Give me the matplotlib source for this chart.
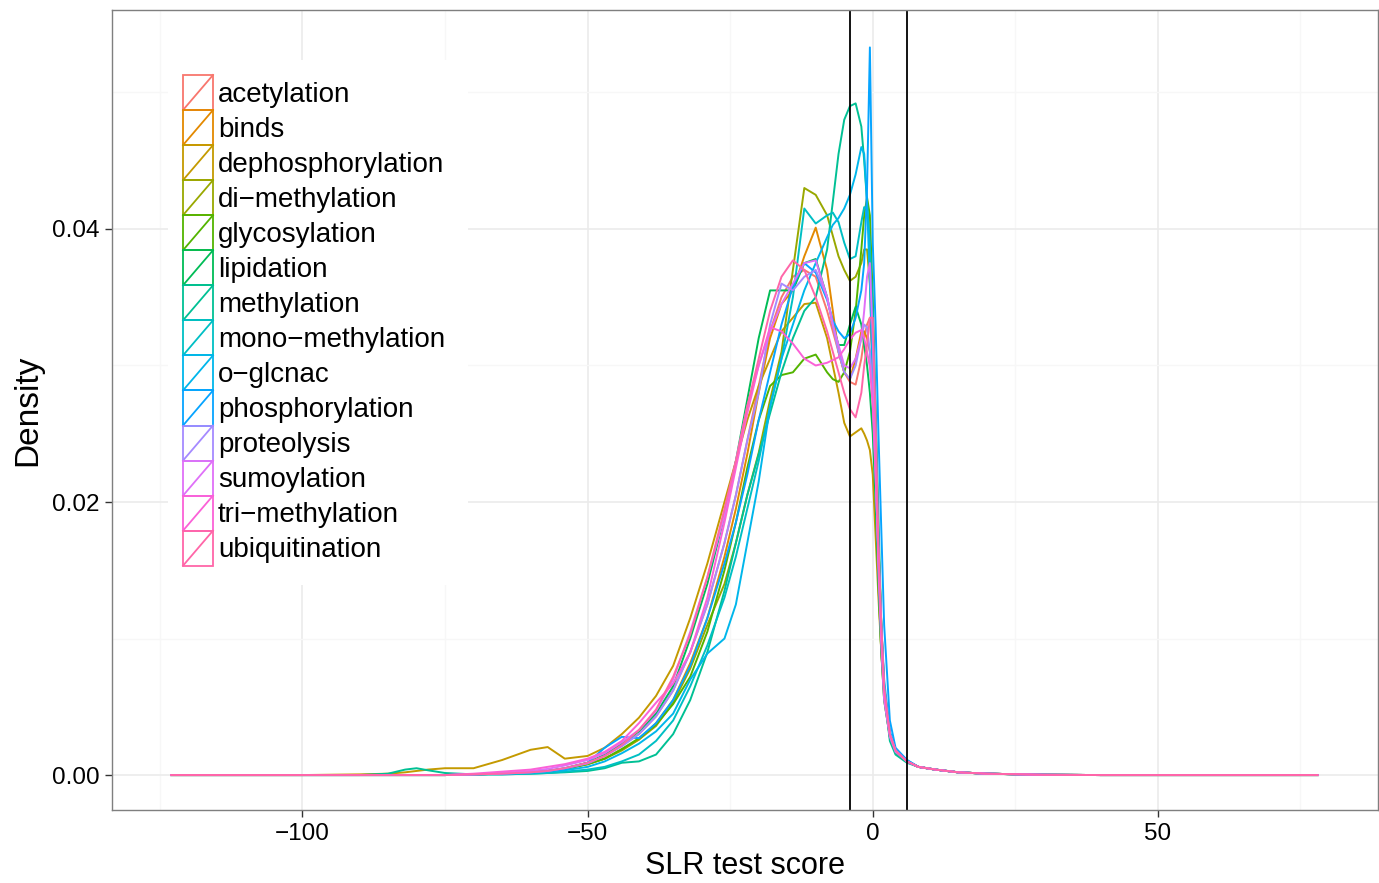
import numpy as np
import matplotlib
matplotlib.use('Agg')
import matplotlib.pyplot as plt
from matplotlib.patches import Rectangle
from matplotlib.lines import Line2D

plt.rcParams['font.family'] = ['Liberation Sans', 'DejaVu Sans']

# SLR test score grid (shared by all curves)
score = [-123, -100, -90, -85, -82, -80, -78, -75, -70, -65,
         -60, -57, -54, -50, -47, -44, -41, -38, -35, -32,
         -29, -26, -24, -22, -20, -18, -16, -14, -12, -10,
         -8, -7, -6, -5, -4, -3, -2, -1.5, -1, -0.5,
         0, 0.5, 1, 1.5, 2, 3, 4, 6, 8, 11,
         15, 20, 30, 40, 50, 78]

# density values x 1000
acetylation = [0, 0, 0, 0, 0, 0, 0, 0, 0.05, 0.1,
               0.2, 0.3, 0.5, 0.9, 1.4, 2.2, 3.0, 4.3, 6.2, 9.0,
               12.5, 17, 20.5, 24.5, 28.5, 32.5, 35, 36.5, 37, 36.5,
               34, 32.5, 31, 29.5, 28.8, 28.6, 30.5, 32, 33, 33.5,
               30, 24, 17, 11, 6.5, 3, 1.7, 1.0, 0.6, 0.4,
               0.2, 0.1, 0.02, 0, 0, 0]
binds = [0, 0, 0, 0, 0, 0, 0, 0, 0.05, 0.1,
         0.2, 0.3, 0.45, 0.8, 1.2, 1.9, 2.6, 3.8, 5.5, 8.2,
         11.5, 16, 19.5, 23.5, 28, 32, 34.5, 35.5, 38, 40.1,
         37, 34, 31, 29.5, 29, 30.5, 32.5, 32.5, 32, 31,
         28, 23, 17, 11, 6.5, 3, 1.8, 1.0, 0.6, 0.4,
         0.2, 0.1, 0.02, 0, 0, 0]
dephosphorylation = [0, 0, 0.05, 0.1, 0.2, 0.3, 0.4, 0.5, 0.5, 1.1,
                     1.85, 2.05, 1.2, 1.4, 2.0, 3.0, 4.2, 5.8, 8.0, 11.5,
                     15.5, 20, 23, 26, 28.5, 30.5, 32.5, 33.5, 34.5, 34.6,
                     32, 30, 28, 25.8, 24.8, 25.1, 25.4, 25, 24.5, 23.8,
                     22, 17.5, 13, 9, 6, 3, 1.6, 1.0, 0.6, 0.4,
                     0.2, 0.1, 0.02, 0, 0, 0]
di_methylation = [0, 0, 0, 0, 0, 0, 0, 0, 0.05, 0.1,
                  0.2, 0.3, 0.45, 0.8, 1.2, 1.8, 2.6, 3.6, 5.3, 7.8,
                  11, 14, 17, 20.5, 23.6, 27.5, 31, 37, 43, 42.5,
                  41, 39.5, 38, 37, 36.2, 36.5, 37.5, 38.5, 38.5, 36,
                  30, 22, 14, 9, 5.5, 2.8, 1.7, 1.0, 0.6, 0.4,
                  0.2, 0.1, 0.02, 0, 0, 0]
glycosylation = [0, 0, 0, 0, 0, 0, 0, 0, 0.05, 0.1,
                 0.2, 0.3, 0.45, 0.8, 1.2, 1.9, 2.7, 3.7, 5.2, 7.2,
                 10.5, 15, 18.5, 22.5, 26, 28.5, 29.3, 29.5, 30.5, 30.8,
                 29.5, 29, 28.8, 29.5, 31, 34, 38.5, 41, 42.3, 41,
                 35, 26, 17, 10.5, 6, 2.8, 1.7, 1.0, 0.6, 0.4,
                 0.2, 0.1, 0.02, 0, 0, 0]
lipidation = [0, 0, 0, 0, 0, 0, 0, 0, 0.05, 0.1,
              0.2, 0.3, 0.5, 0.9, 1.5, 2.3, 3.2, 4.5, 6.5, 10,
              14, 19, 23, 27.5, 32, 35.5, 35.5, 35.5, 37.5, 37.8,
              35, 33, 31.5, 31.5, 33, 34.3, 33, 31.5, 30, 28,
              25, 20, 14, 9, 5.5, 2.8, 1.7, 1.0, 0.6, 0.4,
              0.2, 0.1, 0.02, 0, 0, 0]
methylation = [0, 0, 0, 0.1, 0.4, 0.5, 0.35, 0.15, 0.05, 0.05,
               0.1, 0.15, 0.2, 0.3, 0.5, 0.9, 1.0, 1.5, 3.0, 5.5,
               9, 13.5, 17, 20.5, 23.5, 26.5, 29.5, 32, 34, 35,
               38.5, 42, 45.5, 48, 49, 49.2, 47.5, 45, 42, 38.5,
               34, 27, 19, 11, 6, 2.5, 1.5, 0.9, 0.6, 0.4,
               0.2, 0.1, 0.02, 0, 0, 0]
mono_methylation = [0, 0, 0, 0, 0, 0, 0, 0, 0.05, 0.05,
                    0.1, 0.15, 0.25, 0.4, 0.6, 1.0, 1.5, 2.5, 4.0, 6.5,
                    9.5, 13, 16, 19.5, 23, 27, 30.5, 35, 41.5, 40.4,
                    41, 41.2, 40.5, 39, 37.8, 38, 40.5, 41.6, 41.5, 39,
                    33, 25, 17, 11, 6.5, 3, 1.8, 1.0, 0.6, 0.4,
                    0.2, 0.1, 0.02, 0, 0, 0]
o_glcnac = [0, 0, 0, 0, 0, 0, 0, 0, 0.05, 0.1,
            0.15, 0.25, 0.35, 0.6, 1.0, 1.6, 2.3, 3.2, 4.5, 7.0,
            8.9, 10, 12.5, 17, 21.5, 27, 30.5, 33, 35.5, 37.5,
            39.4, 40.3, 40.8, 41.5, 42.5, 44, 46, 45.5, 42, 36,
            29, 22, 16, 11, 7, 3.2, 1.9, 1.1, 0.6, 0.4,
            0.2, 0.1, 0.02, 0, 0, 0]
phosphorylation = [0, 0, 0, 0, 0, 0, 0, 0, 0.05, 0.1,
                   0.2, 0.3, 0.45, 0.9, 2.0, 2.8, 2.7, 3.8, 5.5, 8.0,
                   11.5, 15.5, 18.5, 22, 26, 29.5, 33, 35.8, 37.5, 36.8,
                   34.8, 33.3, 32.5, 32, 32.3, 33.5, 35.5, 37.5, 43, 53.3,
                   39, 33, 25, 18, 11, 4, 2, 1.1, 0.6, 0.4,
                   0.2, 0.1, 0.02, 0, 0, 0]
proteolysis = [0, 0, 0, 0, 0, 0, 0, 0, 0.05, 0.1,
               0.2, 0.3, 0.5, 0.85, 1.4, 2.1, 3.0, 4.3, 6.2, 9.0,
               12.5, 17, 20.5, 24.5, 28, 33, 36, 35.5, 36.5, 37,
               35, 33, 31, 29.5, 29, 30, 32, 33, 32.8, 31,
               28, 22, 16, 10.5, 6, 3, 1.8, 1.0, 0.6, 0.4,
               0.2, 0.1, 0.02, 0, 0, 0]
sumoylation = [0, 0, 0, 0, 0, 0, 0, 0, 0.05, 0.15,
               0.3, 0.45, 0.7, 1.1, 1.6, 2.4, 3.3, 4.7, 7.0, 10.5,
               14.5, 19, 23, 27, 30, 32.5, 34.5, 36, 37.5, 37.7,
               35, 33, 31.5, 30, 29.8, 30.5, 32, 34, 36.5, 37.5,
               32, 23, 15, 9.5, 5.5, 2.8, 1.7, 1.0, 0.6, 0.4,
               0.2, 0.1, 0.02, 0, 0, 0]
tri_methylation = [0, 0, 0, 0, 0, 0, 0, 0, 0.1, 0.25,
                   0.4, 0.6, 0.8, 1.2, 1.7, 2.5, 3.8, 5.3, 6.7, 9.0,
                   13, 18.5, 22.5, 26.5, 30, 32.8, 32.5, 31.6, 30.5, 30,
                   30.2, 30.4, 30.6, 31.2, 31.9, 32.4, 32.6, 32, 31, 29.9,
                   27, 22, 16, 10.5, 6, 3, 1.8, 1.0, 0.6, 0.4,
                   0.2, 0.1, 0.02, 0, 0, 0]
ubiquitination = [0, 0, 0, 0, 0, 0, 0, 0, 0.05, 0.1,
                  0.2, 0.3, 0.5, 0.9, 1.4, 2.2, 3.3, 4.8, 7.2, 10.3,
                  14.5, 19.5, 23, 27, 30.5, 34, 36.5, 37.7, 37, 35,
                  32.5, 31, 29.5, 28, 26.8, 26.2, 28, 30, 31.5, 33.5,
                  33.5, 26, 17, 11, 6.5, 3, 1.8, 1.0, 0.6, 0.4,
                  0.2, 0.1, 0.02, 0, 0, 0]

labels = ['acetylation', 'binds', 'dephosphorylation', 'di\u2212methylation',
          'glycosylation', 'lipidation', 'methylation', 'mono\u2212methylation',
          'o\u2212glcnac', 'phosphorylation', 'proteolysis', 'sumoylation',
          'tri\u2212methylation', 'ubiquitination']
curves = [acetylation, binds, dephosphorylation, di_methylation, glycosylation,
          lipidation, methylation, mono_methylation, o_glcnac, phosphorylation,
          proteolysis, sumoylation, tri_methylation, ubiquitination]
cutoffs = [-4, 6]


def hcl_hex(h, c=100.0, l=65.0):
    # ggplot2 default hue palette (polar Luv -> sRGB)
    hr = np.deg2rad(h)
    u, v = c * np.cos(hr), c * np.sin(hr)
    xn, yn, zn = 95.047, 100.0, 108.883
    den = xn + 15 * yn + 3 * zn
    un, vn = 4 * xn / den, 9 * yn / den
    y = yn * ((l + 16) / 116) ** 3
    up, vp = u / (13 * l) + un, v / (13 * l) + vn
    x = y * 9 * up / (4 * vp)
    z = y * (12 - 3 * up - 20 * vp) / (4 * vp)
    x, y, z = x / 100, y / 100, z / 100
    rgb = [3.240479 * x - 1.537150 * y - 0.498535 * z,
           -0.969256 * x + 1.875992 * y + 0.041556 * z,
           0.055648 * x - 0.204043 * y + 1.057311 * z]
    out = []
    for t in rgb:
        t = 12.92 * t if t <= 0.0031308 else 1.055 * t ** (1 / 2.4) - 0.055
        out.append(min(max(t, 0), 1))
    return tuple(out)


n = len(labels)
hues = np.linspace(15, 375, n + 1)[:n]
colors = [hcl_hex(h) for h in hues]

fig = plt.figure(figsize=(13.79, 8.83), dpi=100)
ax = fig.add_axes([112 / 1379, 73 / 883, 1266 / 1379, 800 / 883])

for ys, col in zip(curves, colors):
    ax.plot(score, np.array(ys) / 1000, color=col, lw=1.4, solid_joinstyle='round')
for c in cutoffs:
    ax.axvline(c, color='black', lw=1.3)

ax.set_xlim(-133.4, 88.6)
ax.set_ylim(-0.00256, 0.05604)
ax.set_xticks([-100, -50, 0, 50])
ax.set_xticklabels(['\u2212100', '\u221250', '0', '50'])
ax.set_yticks([0, 0.02, 0.04])
ax.set_yticklabels(['0.00', '0.02', '0.04'])
ax.set_xticks([-125, -75, -25, 25, 75], minor=True)
ax.set_yticks([0.01, 0.03, 0.05], minor=True)
ax.grid(True, which='major', color='#EBEBEB', lw=1.2)
ax.grid(True, which='minor', color='#F7F7F7', lw=1.0)
ax.set_axisbelow(True)
ax.tick_params(which='major', length=5, width=1, color='#333333', labelsize=17.5, pad=4)
ax.tick_params(which='minor', length=0)
for s in ax.spines.values():
    s.set_color('#7F7F7F')
    s.set_linewidth(1)
ax.set_xlabel('SLR test score', fontsize=22, labelpad=5)
ax.set_ylabel('Density', fontsize=24, labelpad=6)

# legend box drawn in axes fraction (pixels relative to the panel)
W, H = 1266.0, 800.0
ax.add_patch(Rectangle((56 / W, (810 - 585) / H), 300 / W, 525 / H, transform=ax.transAxes,
                       facecolor='white', edgecolor='none', zorder=5))
row = 35.05
for i, (lab, col) in enumerate(zip(labels, colors)):
    top = (810 - 75 - row * i) / H
    bot = top - row / H
    x0, x1 = 71 / W, 101 / W
    ax.add_patch(Rectangle((x0, bot), x1 - x0, top - bot, transform=ax.transAxes,
                           fill=False, edgecolor=col, lw=1.3, zorder=6))
    ax.add_line(Line2D([x0, x1], [bot, top], transform=ax.transAxes, color=col, lw=1.3, zorder=6))
    ax.text(106 / W, (top + bot) / 2 - 2 / H, lab, transform=ax.transAxes, fontsize=20,
            va='center', ha='left', zorder=7)

fig.savefig('out.png', dpi=100)
